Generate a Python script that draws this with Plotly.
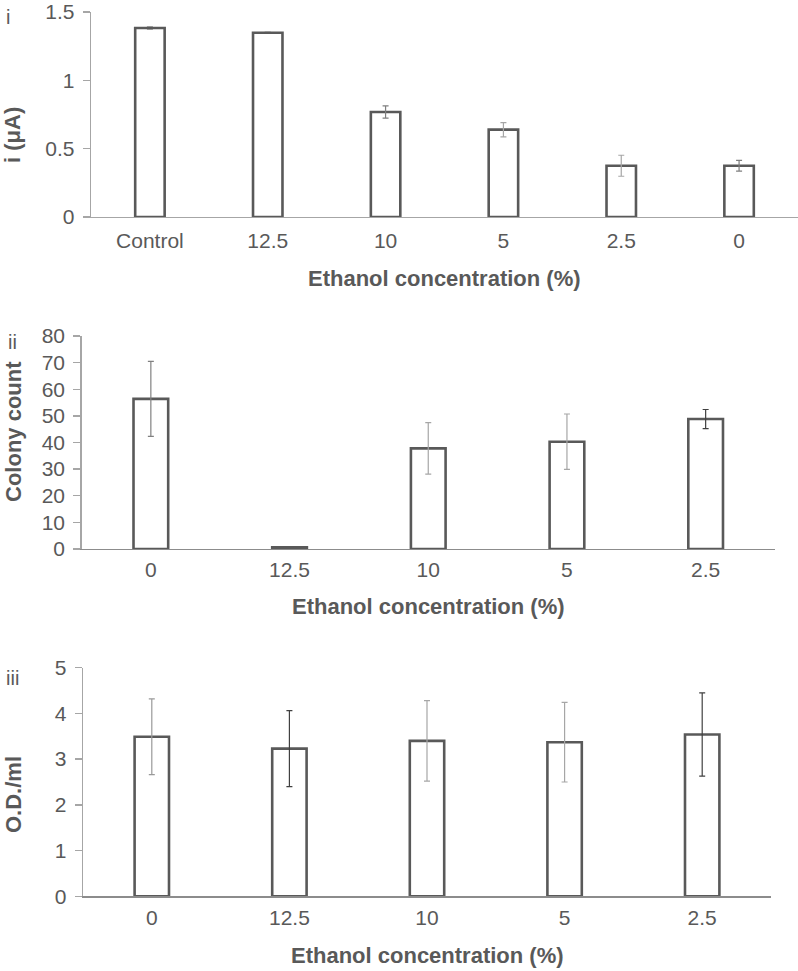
import plotly.graph_objects as go

# ---- Data ----
cats_i = ["Control", "12.5", "10", "5", "2.5", "0"]
current_uA = [1.383, 1.348, 0.768, 0.639, 0.375, 0.375]
current_err = [0.006, 0.004, 0.045, 0.052, 0.077, 0.039]

cats_ii = ["0", "12.5", "10", "5", "2.5"]
colony_count = [56.4, 0.6, 37.8, 40.3, 48.8]
colony_err = [14.1, 0.0, 9.7, 10.4, 3.6]

cats_iii = ["0", "12.5", "10", "5", "2.5"]
od_per_ml = [3.49, 3.23, 3.40, 3.37, 3.54]
od_err = [0.83, 0.83, 0.88, 0.87, 0.91]

err_col_i = ["#595959", "#595959", "#7f7f7f", "#a6a6a6", "#a6a6a6", "#7f7f7f"]
err_col_ii = ["#808080", "#808080", "#a6a6a6", "#a6a6a6", "#404040"]
err_col_iii = ["#999999", "#404040", "#a6a6a6", "#a6a6a6", "#404040"]

x_title = "Ethanol concentration (%)"

W, H = 798, 971
TXT = "#595959"
FONT = "Liberation Sans, Arial, sans-serif"

fig = go.Figure()

def add_panel(idx, cats, vals, errs, ecols):
    xa = "x" if idx == 1 else f"x{idx}"
    ya = "y" if idx == 1 else f"y{idx}"
    for c, v, e, ec in zip(cats, vals, errs, ecols):
        fig.add_trace(go.Bar(
            x=[c], y=[v], xaxis=xa, yaxis=ya, width=0.25,
            marker=dict(color="white", line=dict(color="#595959", width=2.6)),
            error_y=dict(type="data", array=[e], visible=e > 0, color=ec,
                         thickness=1.2, width=3),
            showlegend=False, hoverinfo="skip"))

add_panel(1, cats_i, current_uA, current_err, err_col_i)
add_panel(2, cats_ii, colony_count, colony_err, err_col_ii)
add_panel(3, cats_iii, od_per_ml, od_err, err_col_iii)

def fx(p):
    return p / W

def fy(p):
    return 1 - p / H

def px_x(a, b):
    return [fx(a), min(fx(b), 1.0)]

def px_y(top, bottom):
    return [fy(bottom), fy(top)]

tickfont = dict(family=FONT, size=21, color=TXT)
titlefont = dict(family=FONT, size=22, color=TXT)

def xaxis(dom, anchor, cats, linecol, standoff):
    return dict(domain=dom, anchor=anchor, type="category",
                categoryorder="array", categoryarray=cats,
                showline=True, linecolor=linecol, linewidth=1.3,
                ticks="", showgrid=False, zeroline=False, automargin=False,
                tickfont=tickfont, ticklabelstandoff=standoff, fixedrange=True)

def yaxis(dom, anchor, rng, dtick):
    return dict(domain=dom, anchor=anchor, range=rng, dtick=dtick,
                showline=True, linecolor="#a6a6a6", linewidth=1.3,
                ticks="outside", ticklen=7, tickcolor="#a6a6a6", tickwidth=1.3,
                showgrid=False, zeroline=False, tickfont=tickfont, automargin=False,
                ticklabelstandoff=4, fixedrange=True)

fig.update_layout(
    width=W, height=H, autosize=False,
    margin=dict(l=0, r=0, t=0, b=0),
    paper_bgcolor="white", plot_bgcolor="white",
    barmode="overlay", showlegend=False,
    font=dict(family=FONT, color=TXT),
    xaxis=xaxis(px_x(91, 798), "y", cats_i, "#a6a6a6", 4),
    yaxis=yaxis(px_y(12, 217), "x", [0, 1.5], 0.5),
    xaxis2=xaxis(px_x(81.5, 775), "y2", cats_ii, "#8c8c8c", 1),
    yaxis2=yaxis(px_y(336, 549), "x2", [0, 80], 10),
    xaxis3=xaxis(px_x(83, 771), "y3", cats_iii, "#8c8c8c", 2),
    yaxis3=yaxis(px_y(667.7, 896.3), "x3", [0, 5], 1),
)

annos = []
# x-axis titles
for xc, yc in [(444, 278), (428, 606), (427, 955)]:
    annos.append(dict(text=f"<b>{x_title}</b>", x=fx(xc), y=fy(yc),
                      xref="paper", yref="paper", showarrow=False,
                      xanchor="center", yanchor="middle", font=titlefont))
# y-axis titles
for t, yc in [("i (μA)", 135), ("Colony count", 432), ("O.D./ml", 795)]:
    annos.append(dict(text=f"<b>{t}</b>", x=fx(13), y=fy(yc),
                      xref="paper", yref="paper", showarrow=False,
                      textangle=-90, xanchor="center", yanchor="middle",
                      font=titlefont))
# panel labels
for t, xc, yc in [("i", 8, 17), ("ii", 12, 342), ("iii", 12, 678)]:
    annos.append(dict(text=t, x=fx(xc), y=fy(yc), xref="paper", yref="paper",
                      showarrow=False, xanchor="center", yanchor="middle",
                      font=dict(family=FONT, size=20, color=TXT)))
fig.update_layout(annotations=annos)

fig.write_html("out.html",
               config={"displayModeBar": False, "staticPlot": True},
               post_script="document.body.style.margin='0px';")
